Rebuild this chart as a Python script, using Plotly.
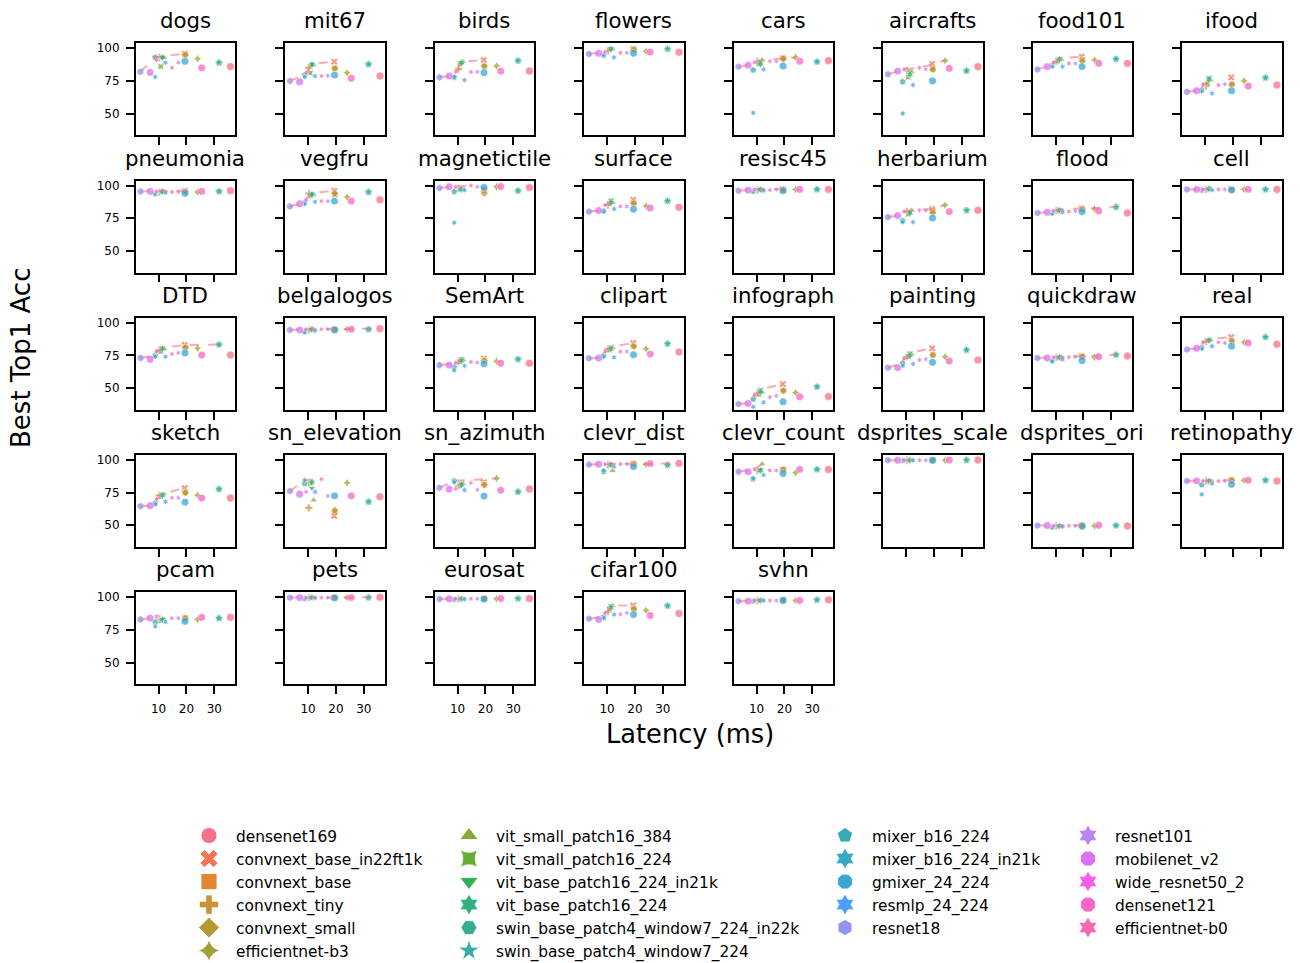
import math
import plotly.graph_objects as go

# ---------------------------------------------------------------- data
models = [
    "densenet169", "convnext_base_in22ft1k", "convnext_base", "convnext_tiny",
    "convnext_small", "efficientnet-b3", "vit_small_patch16_384",
    "vit_small_patch16_224", "vit_base_patch16_224_in21k", "vit_base_patch16_224",
    "swin_base_patch4_window7_224_in22k", "swin_base_patch4_window7_224",
    "mixer_b16_224", "mixer_b16_224_in21k", "gmixer_24_224", "resmlp_24_224",
    "resnet18", "resnet101", "mobilenet_v2", "wide_resnet50_2", "densenet121",
    "efficientnet-b0",
]

latency_ms = [35.8, 19.4, 19.6, 10.3, 19.6, 24.0, 12.0, 10.8, 11.4, 11.4, 31.7,
              31.7, 8.8, 8.8, 19.5, 12.5, 3.5, 17.1, 7.0, 9.3, 25.5, 14.8]

# best top-1 accuracy per dataset, in the model order above
acc_dogs = [86, 96, 95, 93, 95, 92, 93, 86, 93, 93, 89, 89, 93, 78, 90, 89, 82, 89, 81.5, 91, 85, 85]
acc_mit67 = [78.7, 89.7, 84.6, 85, 84.6, 81.2, 87, 81, 88, 87.5, 87.7, 87.7, 79.5, 78, 79.5, 78.7, 75, 79, 74.3, 81, 77, 78.7]
acc_birds = [82.5, 91, 86, 84, 86.4, 86.4, 89.7, 88, 88, 89, 90.5, 90.5, 77.7, 78, 81.3, 75.6, 77.7, 82, 78.7, 82, 82.5, 81.8]
acc_flowers = [97, 99.5, 99, 98, 99, 97.7, 99.5, 99, 99.5, 99.5, 99.5, 99.5, 94.6, 95, 96.2, 93, 95.6, 96.5, 96.2, 97, 97, 96.5]
acc_cars = [90.5, 92.5, 92, 90, 92, 93, 91, 88, 90, 88, 89.7, 89.7, 83.3, 50.5, 86.4, 83.8, 85.9, 90, 87, 89, 90, 90]
acc_aircrafts = [85.9, 88, 84, 83, 83.8, 90.5, 82, 78, 82, 80, 82.8, 82.8, 74.3, 50, 75, 71.8, 80, 84, 82.5, 84, 84.6, 85]
acc_food101 = [88.4, 93.5, 91, 90, 90.2, 91, 91.5, 90, 92.3, 91.5, 91.8, 91.8, 87, 86, 85.9, 85.9, 83.8, 88.4, 85.9, 89, 88.4, 88.4]
acc_ifood = [71.8, 77.7, 72.3, 71, 72.3, 75, 75.6, 73, 77.7, 76, 77.4, 77.4, 68, 67, 67.4, 65.4, 66.6, 72.5, 67.4, 72.5, 71, 71.8]
acc_pneumonia = [96, 96, 95.5, 95, 95.5, 95, 95.5, 95, 95, 95.5, 95.5, 95.5, 93.5, 94, 94, 94.5, 95.5, 95, 95.5, 95.5, 95.5, 95]
acc_vegfru = [89, 96, 93, 94, 94, 91.2, 93, 92, 94, 93, 95, 95, 87, 86, 88, 87.5, 84, 88, 86, 89, 88, 88]
acc_magnetictile = [98.5, 97, 96.5, 98, 94, 99, 97, 97, 98, 97, 96, 96, 95.3, 71.5, 98.5, 96.5, 98, 99, 99, 99, 99.2, 100]
acc_surface = [83.3, 89, 86.4, 85, 86.4, 84.3, 87, 86, 89, 87, 88.2, 88.2, 80.5, 80, 81.8, 82, 80, 84, 80.8, 85, 82.8, 84]
acc_resisc45 = [97, 97.5, 97, 96.5, 97, 97, 97, 96.5, 97, 97, 97, 97, 95.5, 95.5, 96, 96, 96, 97, 96.5, 97, 97, 96.5]
acc_herbarium = [81, 82, 80.5, 80, 79, 85, 81, 78, 80, 79, 81, 81, 73, 72, 75, 72, 75.8, 81, 77, 80, 80, 81]
acc_flood = [79, 82.5, 82, 81, 82, 82, 81, 80.5, 81.5, 81, 83.5, 83.5, 79, 78.5, 80, 79.5, 79, 80.5, 79.5, 80.5, 80.5, 80]
acc_cell = [97, 97.5, 97, 97, 97, 97, 97.5, 97, 97.5, 97.5, 97, 97, 96.5, 96.5, 96.5, 96.5, 97, 97, 97, 97, 97, 97]
acc_dtd = [75.3, 83, 81, 79, 81, 80.5, 80, 78, 81, 80, 83.3, 83.3, 75, 74, 76.8, 74, 73, 77, 72, 78, 75.3, 76]
acc_belgalogos = [95.5, 95, 95, 94.5, 95, 95, 95, 94.5, 95, 95, 95, 95, 93, 93, 94.5, 94, 94.5, 95, 94.5, 95, 95, 95]
acc_semart = [69, 72.5, 71, 70, 71, 70.5, 71.5, 70, 72.5, 71, 72, 72, 66, 63.5, 68.5, 67, 67.5, 69.5, 67.5, 69, 69, 70]
acc_clipart = [77.6, 84.5, 82, 80, 82, 80, 81, 79, 81.5, 80, 84, 84, 75, 74, 75.5, 73.5, 72.8, 78, 73, 78, 76, 78]
acc_infograph = [43.5, 53, 48, 46, 48, 46.6, 47, 45, 49, 47, 51, 51, 41.5, 35.6, 39.5, 39, 37.7, 44, 38.2, 44.6, 43.3, 43]
acc_painting = [71.4, 80.4, 75.3, 74, 75.3, 74, 76, 74, 77, 75, 79.2, 79.2, 69, 67, 69.7, 68.5, 65.6, 72, 65.6, 72.6, 70.7, 71.4]
acc_quickdraw = [74.5, 74.5, 74, 73.5, 74, 73.5, 74, 73, 74, 73.5, 75.5, 75.5, 71, 70.5, 71, 72, 73, 74, 73, 73.5, 74, 73.5]
acc_real = [83.6, 89, 86, 85.5, 86, 85, 87, 86, 87.5, 86.5, 89, 89, 81, 80, 82, 82, 79.5, 84.5, 80.5, 85, 84.5, 85]
acc_sketch = [70.8, 78.5, 75, 73, 75, 73, 74, 72, 74, 73, 77.7, 77.7, 67, 66, 67.7, 68, 64.6, 71, 65, 70, 70.8, 71]
acc_sn_elevation = [71.8, 57.2, 60, 63.3, 61.5, 82.5, 69.2, 82, 78.5, 83, 68, 68, 82, 84.6, 72.5, 75.6, 76.2, 72.5, 73.8, 75.6, 72.5, 85.3]
acc_sn_azimuth = [77.7, 83, 81, 80, 81, 85.9, 82, 80, 82, 81, 75.6, 75.6, 84, 83, 72.3, 77, 78.7, 77.2, 77.7, 78, 76.8, 82.5]
acc_clevr_dist = [97.4, 97, 97, 96.5, 97, 96.5, 91.8, 96, 96.5, 96.5, 96.2, 96.2, 91, 92, 94.9, 95, 96.5, 97, 96.8, 97, 97.2, 97]
acc_clevr_count = [92.8, 93, 92.5, 92, 92.5, 90.2, 96.9, 92, 93, 92, 92.8, 92.8, 85.4, 86, 89.7, 88.5, 91, 92, 91, 93, 92.8, 92]
acc_dsprites_scale = [100, 100, 100, 99.8, 100, 99.8, 100, 99.8, 100, 99.8, 100, 100, 99.5, 99.5, 99.7, 99.7, 99.8, 99.8, 99.8, 99.8, 99.9, 99.8]
acc_dsprites_ori = [49.5, 50, 49.8, 49.5, 49.8, 49.5, 49.5, 49, 49.5, 49.5, 49.8, 49.8, 48.5, 48.5, 49.2, 49, 49.8, 49.5, 49.8, 49.7, 50, 49.6]
acc_retinopathy = [84, 84.5, 84.5, 84, 84.5, 84.5, 84, 83.5, 84, 84, 84.5, 84.5, 81, 73.6, 81.3, 82, 84, 84, 84, 84, 84.5, 84]
acc_pcam = [84.6, 84, 84, 83.5, 84, 83, 83, 82, 83, 83, 84, 84, 81, 77.7, 81.5, 81, 83, 84, 84, 85.4, 84.6, 84]
acc_pets = [100, 99.9, 99.8, 99.5, 99.8, 99.8, 99.8, 99.5, 99.8, 99.8, 99.8, 99.8, 99, 99, 99.5, 99.5, 99.7, 99.7, 99.7, 99.7, 99.8, 99.7]
acc_eurosat = [99, 99, 99, 98.8, 99, 98.8, 99, 98.7, 99, 98.9, 99, 99, 98.3, 98.3, 98.6, 98.5, 98.7, 98.9, 98.8, 98.9, 99, 98.9]
acc_cifar100 = [87.5, 93.8, 91, 89, 91, 90, 93.5, 91, 93.6, 92, 93.5, 93.5, 85, 84, 86.7, 86.7, 83.6, 88, 83, 88, 86, 87]
acc_svhn = [98, 98, 98, 97.5, 98, 97.5, 98, 97.5, 98, 97.5, 98, 98, 97, 97, 97.5, 97.5, 97, 97.5, 97, 97.5, 97.5, 97.5]

datasets = [
    ("dogs", acc_dogs), ("mit67", acc_mit67), ("birds", acc_birds),
    ("flowers", acc_flowers), ("cars", acc_cars), ("aircrafts", acc_aircrafts),
    ("food101", acc_food101), ("ifood", acc_ifood),
    ("pneumonia", acc_pneumonia), ("vegfru", acc_vegfru),
    ("magnetictile", acc_magnetictile), ("surface", acc_surface),
    ("resisc45", acc_resisc45), ("herbarium", acc_herbarium),
    ("flood", acc_flood), ("cell", acc_cell),
    ("DTD", acc_dtd), ("belgalogos", acc_belgalogos), ("SemArt", acc_semart),
    ("clipart", acc_clipart), ("infograph", acc_infograph),
    ("painting", acc_painting), ("quickdraw", acc_quickdraw), ("real", acc_real),
    ("sketch", acc_sketch), ("sn_elevation", acc_sn_elevation),
    ("sn_azimuth", acc_sn_azimuth), ("clevr_dist", acc_clevr_dist),
    ("clevr_count", acc_clevr_count), ("dsprites_scale", acc_dsprites_scale),
    ("dsprites_ori", acc_dsprites_ori), ("retinopathy", acc_retinopathy),
    ("pcam", acc_pcam), ("pets", acc_pets), ("eurosat", acc_eurosat),
    ("cifar100", acc_cifar100), ("svhn", acc_svhn),
]

x_ticks = [10, 20, 30]
y_ticks = [50, 75, 100]

# ---------------------------------------------------------------- styles
symbols = ["circle", "x", "square", "cross", "diamond", "star-diamond",
           "triangle-up", "star-square", "triangle-down", "hexagram",
           "hexagon2", "star", "pentagon", "hexagram", "octagon", "hexagram",
           "hexagon", "hexagram", "octagon", "hexagram", "octagon", "hexagram"]
point_sizes = [8, 6.5, 6, 6.5, 6, 6.5, 6.5, 6, 6.5, 6, 7.5, 7, 7, 5, 8, 5,
               7.5, 4.5, 8, 4.5, 8, 4.5]


def husl_to_rgb(h, s, l):
    """HUSL -> sRGB (same formulas seaborn uses for its husl palette)."""
    m = [[3.2406, -1.5372, -0.4986], [-0.9689, 1.8758, 0.0415],
         [0.0557, -0.2040, 1.0570]]
    hrad = math.radians(h)
    sin_h, cos_h = math.sin(hrad), math.cos(hrad)
    sub1 = (l + 16) ** 3 / 1560896.0
    sub2 = sub1 if sub1 > 0.008856 else l / 903.3
    max_c = float("inf")
    for m1, m2, m3 in m:
        top = (0.99915 * m1 + 1.05122 * m2 + 1.14460 * m3) * sub2
        rbottom = 0.86330 * m3 - 0.17266 * m2
        lbottom = 0.12949 * m3 - 0.38848 * m1
        bottom = (rbottom * sin_h + lbottom * cos_h) * sub2
        for t in (0.0, 1.0):
            c = l * (top - 1.05122 * t) / (bottom + 0.17266 * sin_h * t)
            if 0.0 < c < max_c:
                max_c = c
    chroma = max_c / 100.0 * s
    u, v = math.cos(hrad) * chroma, math.sin(hrad) * chroma
    t = (l + 16.0) / 116.0
    var_y = t ** 3 if t ** 3 > 0.008856 else (116.0 * t - 16.0) / 903.3
    var_u = u / (13.0 * l) + 0.19784
    var_v = v / (13.0 * l) + 0.46834
    y = var_y
    x = -(9.0 * y * var_u) / ((var_u - 4.0) * var_v - var_u * var_v)
    z = (9.0 * y - 15.0 * var_v * y - var_v * x) / (3.0 * var_v)
    rgb = []
    for row in m:
        c = row[0] * x + row[1] * y + row[2] * z
        c = 12.92 * c if c <= 0.0031308 else 1.055 * c ** (1 / 2.4) - 0.055
        rgb.append(int(round(min(max(c, 0.0), 1.0) * 255)))
    return rgb


n_models = len(models)
colors = []
for i in range(n_models):
    hue = ((i / n_models + 0.01) % 1.0) * 359
    r, g, b = husl_to_rgb(hue, 0.9 * 99, 0.65 * 99)
    colors.append(f"rgb({r},{g},{b})")

FONT = "DejaVu Sans"
W, H = 1300, 963
N_COLS = 8
PANEL_W, PANEL_H = 99.5, 92
COL_STEP, ROW_STEP = 149.5, 137.25
LEFT0, TOP0 = 135.7, 43.3
X_RANGE = [1.8, 37.5]
Y_RANGE = [33.3, 103.8]

fig = go.Figure()
layout_axes = {}
annotations = []
n_panels = len(datasets)
last_row = (n_panels - 1) // N_COLS

for k, (title, acc) in enumerate(datasets):
    row, col = divmod(k, N_COLS)
    left = LEFT0 + col * COL_STEP
    top = TOP0 + row * ROW_STEP
    ax = "" if k == 0 else str(k + 1)
    xa, ya = "x" + ax, "y" + ax

    # scatter of every model
    fig.add_trace(go.Scatter(
        x=latency_ms, y=acc, mode="markers", xaxis=xa, yaxis=ya,
        text=models, hovertemplate="%{text}<br>%{x} ms, %{y}%<extra></extra>",
        showlegend=False,
        marker=dict(symbol=symbols, color=colors, size=point_sizes,
                    opacity=0.75, line=dict(color="white", width=0.6)),
    ))

    # latency / accuracy Pareto front
    order = sorted(range(n_models), key=lambda i: (latency_ms[i], -acc[i]))
    fx, fy, best = [], [], -1.0
    for i in order:
        if acc[i] > best:
            best = acc[i]
            fx.append(latency_ms[i])
            fy.append(acc[i])
    fig.add_trace(go.Scatter(
        x=fx, y=fy, mode="lines", xaxis=xa, yaxis=ya, showlegend=False,
        hoverinfo="skip",
        line=dict(color="rgba(247,113,137,0.6)", width=2, dash="dash"),
    ))

    show_x = row == last_row
    show_y = col == 0
    common = dict(showline=True, mirror=True, linecolor="black", linewidth=1.5,
                  ticks="outside", ticklen=8, tickwidth=1.5, tickcolor="black",
                  showgrid=False, zeroline=False, fixedrange=True,
                  tickfont=dict(family=FONT, size=12, color="black"))
    layout_axes["xaxis" + ax] = dict(
        domain=[left / W, (left + PANEL_W) / W], anchor=ya, range=X_RANGE,
        tickvals=x_ticks, showticklabels=show_x, ticklabelstandoff=5,
        **common)
    layout_axes["yaxis" + ax] = dict(
        domain=[1 - (top + PANEL_H) / H, 1 - top / H], anchor=xa,
        range=Y_RANGE, tickvals=y_ticks, showticklabels=show_y,
        ticklabelstandoff=4, **common)

    annotations.append(dict(
        text=title, x=(left + PANEL_W / 2) / W, y=1 - (top - 8) / H,
        xref="paper", yref="paper", xanchor="center", yanchor="bottom",
        showarrow=False, font=dict(family=FONT, size=21.3, color="black")))

# axis titles shared by the grid
annotations.append(dict(
    text="Latency (ms)", x=690 / W, y=1 - 734 / H, xref="paper", yref="paper",
    xanchor="center", yanchor="middle", showarrow=False,
    font=dict(family=FONT, size=25.7, color="black")))
annotations.append(dict(
    text="Best Top1 Acc", x=21 / W, y=1 - 358 / H, xref="paper", yref="paper",
    xanchor="center", yanchor="middle", textangle=-90, showarrow=False,
    font=dict(family=FONT, size=26, color="black")))

# legend entries: one per model, split over four legend columns
legend_cols = [0, 0, 0, 0, 0, 0, 1, 1, 1, 1, 1, 1, 2, 2, 2, 2, 2, 3, 3, 3, 3, 3]
legend_names = ["legend", "legend2", "legend3", "legend4"]
for i, name in enumerate(models):
    fig.add_trace(go.Scatter(
        x=[None], y=[None], mode="markers", name=name,
        legend=legend_names[legend_cols[i]],
        marker=dict(symbol=symbols[i], color=colors[i], size=16,
                    line=dict(color="white", width=0.8)),
    ))

legend_text_x = [237, 497, 873, 1116]
legend_style = dict(font=dict(family=FONT, size=15.4, color="black"),
                    bgcolor="rgba(0,0,0,0)", borderwidth=0, itemwidth=44,
                    xanchor="left", yanchor="top", tracegroupgap=0,
                    orientation="v")
legends = {}
for j, lname in enumerate(legend_names):
    legends[lname] = dict(x=(legend_text_x[j] - 55) / W, y=1 - 819 / H,
                          **legend_style)

fig.update_layout(
    width=W, height=H,
    margin=dict(l=0, r=0, t=0, b=0, autoexpand=False),
    paper_bgcolor="white", plot_bgcolor="white",
    font=dict(family=FONT, color="black"),
    annotations=annotations, showlegend=True,
    **layout_axes, **legends,
)

fig.write_html("out.html")
